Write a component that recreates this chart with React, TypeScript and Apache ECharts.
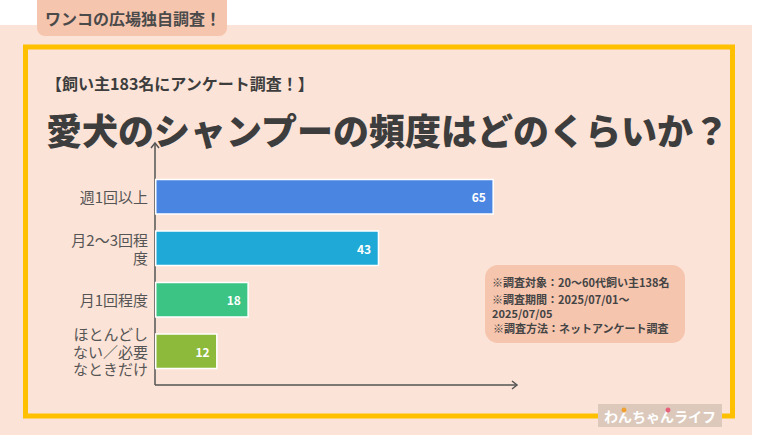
import React, { useEffect, useRef } from "react";
import * as echarts from "echarts";

const categories = ["週1回以上", "月2〜3回程度", "月1回程度", "ほとんどしない／必要なときだけ"];
const values = [65, 43, 18, 12];
const barColors = ["#4a86e1", "#1ea9d7", "#3cc484", "#8dba3a"];
const tagText = "ワンコの広場独自調査！";
const subtitle = "【飼い主183名にアンケート調査！】";
const title = "愛犬のシャンプーの頻度はどのくらいか？";
const noteLines = [
  "※調査対象：20〜60代飼い主138名",
  "※調査期間：2025/07/01〜\n2025/07/05",
  "※調査方法：ネットアンケート調査",
];
const logoText = "わんちゃんライフ";

const FONT = '"Noto Sans CJK JP", "Noto Sans", sans-serif';

export default function App() {
  const ref = useRef<HTMLDivElement>(null);
  useEffect(() => {
    document.body.style.margin = "0";
    const chart = echarts.init(ref.current!, null, { renderer: "svg" });
    const axisColor = "#555555";
    chart.setOption({
      animation: false,
      backgroundColor: "#ffffff",
      textStyle: { fontFamily: FONT },
      grid: { left: 155, right: 260, top: 171, bottom: 58, containLabel: false },
      xAxis: { type: "value", min: 0, max: 70, show: false },
      yAxis: {
        type: "category",
        data: categories,
        inverse: true,
        axisLine: { show: false },
        axisTick: { show: false },
        splitLine: { show: false },
        axisLabel: {
          color: "#555555",
          fontSize: 15,
          fontFamily: FONT,
          width: 79,
          overflow: "break",
          lineHeight: 17.5,
          margin: 7,
        },
      },
      series: [
        {
          type: "bar",
          barWidth: 36,
          data: values.map((v, i) => ({ value: v, itemStyle: { color: barColors[i] } })),
          itemStyle: { borderColor: "#ffffff", borderWidth: 1.5 },
          label: {
            show: true,
            position: "insideRight",
            distance: 8,
            color: "#ffffff",
            fontWeight: "bold",
            fontSize: 12,
            fontFamily: FONT,
          },
          z: 5,
        },
      ],
      graphic: [
        { type: "rect", z: -20, shape: { x: 0, y: 25, width: 752, height: 410 }, style: { fill: "#fce3d7" } },
        { type: "rect", z: -15, shape: { x: 37, y: -10, width: 190, height: 46, r: 8 }, style: { fill: "#f6c5ae" } },
        {
          type: "text", z: -14, x: 133, y: 18,
          style: { text: tagText, fill: "#4a4a4a", font: `bold 16px ${FONT}`, align: "center", verticalAlign: "middle" },
        },
        {
          type: "rect", z: -15, shape: { x: 25.5, y: 47, width: 707, height: 369 },
          style: { fill: "none", stroke: "#ffc000", lineWidth: 5 },
        },
        {
          type: "text", z: -14, x: 46, y: 83,
          style: { text: subtitle, fill: "#3d3d3d", font: `bold 16px ${FONT}`, align: "left", verticalAlign: "middle" },
        },
        {
          type: "text", z: -14, x: 46, y: 129,
          style: { text: title, fill: "#3d3d3d", font: `900 36px ${FONT}`, align: "left", verticalAlign: "middle" },
        },
        // axes with open arrowheads
        { type: "line", z: 1, shape: { x1: 155, y1: 143, x2: 155, y2: 385 }, style: { stroke: axisColor, lineWidth: 1.5 } },
        { type: "line", z: 1, shape: { x1: 155, y1: 385, x2: 517, y2: 385 }, style: { stroke: axisColor, lineWidth: 1.5 } },
        { type: "polyline", z: 1, shape: { points: [[151, 148], [155, 143], [159, 148]] }, style: { stroke: axisColor, lineWidth: 1.5, fill: "none" } },
        { type: "polyline", z: 1, shape: { points: [[512, 381], [517, 385], [512, 389]] }, style: { stroke: axisColor, lineWidth: 1.5, fill: "none" } },
        // note box
        { type: "rect", z: -14, shape: { x: 485, y: 265, width: 200, height: 78, r: 13 }, style: { fill: "#f6c5ae" } },
        {
          type: "text", z: -13, x: 492, y: 282,
          style: { text: noteLines[0], fill: "#444444", font: `bold 11px ${FONT}`, align: "left", verticalAlign: "middle" },
        },
        {
          type: "text", z: -13, x: 492, y: 306,
          style: { text: noteLines[1], fill: "#444444", font: `bold 11px ${FONT}`, align: "left", verticalAlign: "middle", lineHeight: 14 },
        },
        {
          type: "text", z: -13, x: 493, y: 328,
          style: { text: noteLines[2], fill: "#444444", font: `bold 11px ${FONT}`, align: "left", verticalAlign: "middle" },
        },
        // logo
        { type: "rect", z: -12, shape: { x: 598, y: 404, width: 124, height: 23 }, style: { fill: "#dcc9bc" } },
        {
          type: "text", z: -11, x: 660, y: 416,
          style: { text: logoText, fill: "#ffffff", font: `bold 14px ${FONT}`, align: "center", verticalAlign: "middle" },
        },
        { type: "circle", z: -10, shape: { cx: 624, cy: 410, r: 2.5 }, style: { fill: "#f0a030" } },
        { type: "circle", z: -10, shape: { cx: 668, cy: 410, r: 2.5 }, style: { fill: "#e8607a" } },
      ],
    });
    return () => chart.dispose();
  }, []);
  return <div ref={ref} style={{ width: 780, height: 435 }} />;
}
